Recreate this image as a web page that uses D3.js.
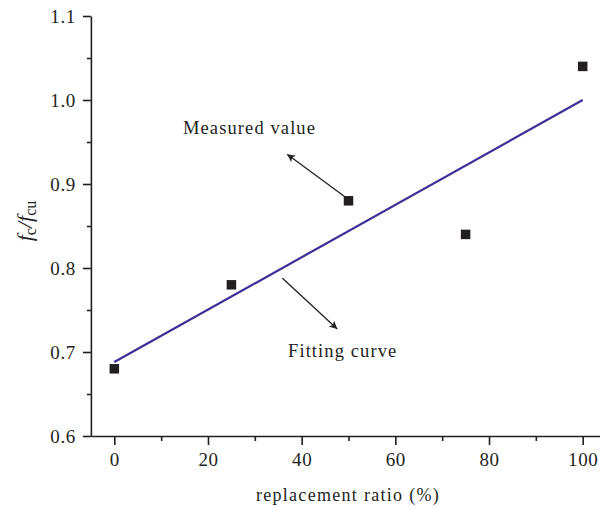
<!DOCTYPE html>
<html>
<head>
<meta charset="utf-8">
<script src="https://cdn.jsdelivr.net/npm/d3@7"></script>
<style>
  body { margin: 0; background: #fff; }
  svg text { font-family: "Liberation Serif", "DejaVu Serif", serif; fill: #231f20; }
</style>
</head>
<body>
<div id="chart"></div>
<script>
// measured points
const ratios = [0, 25, 50, 75, 100];
const measured = [0.68, 0.78, 0.88, 0.84, 1.04];

// fitting line end points
const fitX = [0, 100];
const fitY = [0.688, 1.0];

const xTicks = [0, 20, 40, 60, 80, 100];
const yTicks = [0.6, 0.7, 0.8, 0.9, 1.0, 1.1];

// annotation arrows in data units: [x1, y1, x2, y2]
const measuredArrow = [49.3, 0.8845, 36.9, 0.9354];
const fittingArrow = [35.9, 0.7877, 47.6, 0.7274];

const width = 600, height = 509;
const svg = d3.select("#chart").append("svg")
    .attr("width", width).attr("height", height);

const x = d3.scaleLinear().domain([-5, 105]).range([90.9, 606.1]);
const y = d3.scaleLinear().domain([0.6, 1.1]).range([436, 16]);

const ink = "#231f20";

svg.append("defs").append("marker")
    .attr("id", "head")
    .attr("viewBox", "0 0 10 10")
    .attr("refX", 10).attr("refY", 5)
    .attr("markerWidth", 10).attr("markerHeight", 8)
    .attr("markerUnits", "userSpaceOnUse")
    .attr("orient", "auto")
  .append("path")
    .attr("d", "M0,0 L10,5 L0,10 L2.5,5 Z")
    .attr("fill", ink);

// x axis: major + minor ticks
const xAxis = svg.append("g").attr("transform", `translate(0,${y(0.6)})`);
xAxis.call(d3.axisBottom(x).tickValues(xTicks).tickSize(9).tickSizeOuter(0).tickPadding(8));
xAxis.append("g").call(d3.axisBottom(x).tickValues(d3.range(10, 100, 20)).tickSize(5).tickFormat(""))
    .select(".domain").remove();

// y axis
const yAxis = svg.append("g").attr("transform", `translate(${x(-5)},0)`);
yAxis.call(d3.axisLeft(y).tickValues(yTicks).tickSize(8).tickSizeOuter(0).tickPadding(7)
    .tickFormat(d3.format(".1f")));
yAxis.append("g").call(d3.axisLeft(y).tickValues([0.65, 0.75, 0.85, 0.95, 1.05]).tickSize(4).tickFormat(""))
    .select(".domain").remove();

svg.selectAll(".domain, .tick line").attr("stroke", ink).attr("stroke-width", 1.6);
svg.selectAll(".tick text").attr("fill", ink)
    .style("font-size", "19px").style("letter-spacing", "0.6px");

// axis titles
svg.append("text")
    .attr("x", 348).attr("y", 501)
    .attr("text-anchor", "middle")
    .style("font-size", "18px").style("letter-spacing", "1.3px")
    .text("replacement ratio (%)");

const yl = svg.append("text")
    .attr("transform", "translate(32,221) rotate(-90)")
    .attr("text-anchor", "middle")
    .style("font-size", "22px");
yl.append("tspan").style("font-style", "italic").text("f");
yl.append("tspan").attr("dy", 4).style("font-size", "16px").text("c");
yl.append("tspan").attr("dy", -4).style("font-style", "italic").text("/f");
yl.append("tspan").attr("dy", 4).style("font-size", "16px").text("cu");

// fitting line
svg.append("line")
    .attr("x1", x(fitX[0])).attr("y1", y(fitY[0]))
    .attr("x2", x(fitX[1])).attr("y2", y(fitY[1]))
    .attr("stroke", "#3b2f98").attr("stroke-width", 2.2);

// measured squares
const s = 9.5;
svg.selectAll("rect.pt").data(ratios).join("rect")
    .attr("class", "pt")
    .attr("x", d => x(d) - s / 2)
    .attr("y", (d, i) => y(measured[i]) - s / 2)
    .attr("width", s).attr("height", s)
    .attr("fill", ink);

// annotations
[measuredArrow, fittingArrow].forEach(a => {
    svg.append("line")
        .attr("x1", x(a[0])).attr("y1", y(a[1]))
        .attr("x2", x(a[2])).attr("y2", y(a[3]))
        .attr("stroke", ink).attr("stroke-width", 1.3)
        .attr("marker-end", "url(#head)");
});

svg.append("text")
    .attr("x", 183).attr("y", 134)
    .style("font-size", "18.5px").style("letter-spacing", "1.1px")
    .text("Measured value");

svg.append("text")
    .attr("x", 288).attr("y", 357)
    .style("font-size", "18.5px").style("letter-spacing", "1.1px")
    .text("Fitting curve");
</script>
</body>
</html>
